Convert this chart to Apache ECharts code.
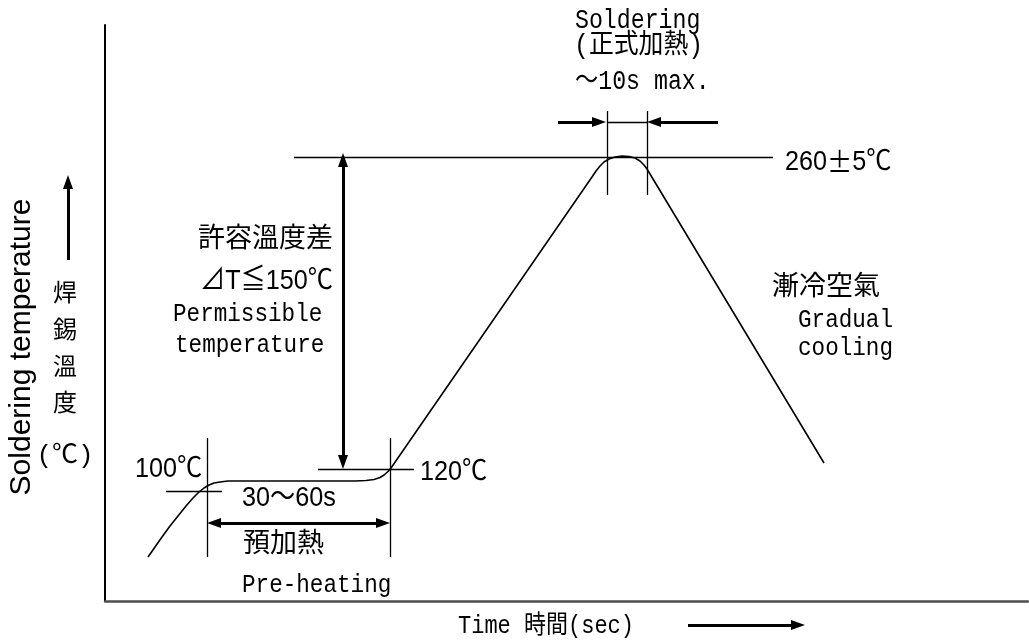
<!DOCTYPE html>
<html><head><meta charset="utf-8">
<script src="https://cdn.jsdelivr.net/npm/echarts@6/dist/echarts.min.js"></script>
<style>html,body{margin:0;padding:0;background:#fff}#c{width:1029px;height:641px}</style>
</head><body><div id="c"></div>
<script>
// Reflow soldering profile (schematic units: x = time, y = temperature)
const profilePoints = [
  [43,44],[50,54],[57,64],[65,75],[73,85],[81,95],[88,103],[94,109],[99,113],[104,116],
  [109,118],[115,119],[123,120],[250,120],[261,120.5],[269,121.5],[275,123.5],[279,126],
  [283,129.5],[286,133],[487,424],[491,430],[495,435],[499,439],[504,442],[510,444],
  [517,445],[524,444.5],[530,443],[535,440],[539,436],[542,432],[545,427],[719,138]
];
// thin reference lines
const guideLines = [
  [[61,110],[117,110]],     // 100°C level
  [[102,163],[102,44]],     // pre-heat start
  [[285,163],[285,44]],     // pre-heat end
  [[213,132],[309,132]],    // 120°C level
  [[189,444],[668,444]],    // 260°C level
  [[502,490],[502,406]],    // soldering start
  [[542,490],[542,406]],    // soldering end
  [[502,479],[542,479]]     // soldering window
];
const doubleArrows = [
  [[238,441],[238,139]],    // ΔT
  [[109,78],[278,78]]       // 30~60s
];
const singleArrows = [
  [[453,479],[494,479]],
  [[613,479],[549,479]],
  [[-37,341],[-37,419]],    // temperature axis arrow
  [[583,-24],[693,-24]]     // time axis arrow
];

const mono = '"Liberation Mono","Noto Sans CJK JP"';
const sans = '"Liberation Sans","Noto Sans CJK JP"';
const cjk = '"Noto Sans CJK JP"';
function t(text, x, y, size, fam, align, extra) {
  return Object.assign({
    type: 'text', x: x, y: y, silent: true,
    style: {text: text, font: size + 'px ' + fam, fill: '#000',
      textAlign: align, align: align, textVerticalAlign: 'middle', verticalAlign: 'middle'}
  }, extra || {});
}
const sx = {scaleX: 0.9};
const mx = {scaleX: 0.87};

const chart = echarts.init(document.getElementById('c'), null, {renderer: 'canvas'});
const tempLabel = t('{a|260}{b|±}{a|5℃}', 785, 162, 28, sans, 'left', sx);
tempLabel.style.rich = {
  a: {font: '28px ' + sans, fill: '#000'},
  b: {font: '28px ' + cjk, fill: '#000'}
};
chart.setOption({
  animation: false,
  backgroundColor: '#fff',
  grid: {left: 105, right: 1, top: 25, bottom: 40, containLabel: false, outerBoundsMode: 'none'},
  xAxis: {type: 'value', min: 0, max: 923,
    axisLine: {show: true, onZero: false, lineStyle: {color: '#4d4d4d', width: 2.5}},
    axisTick: {show: false}, axisLabel: {show: false}, splitLine: {show: false}},
  yAxis: {type: 'value', min: 0, max: 576,
    axisLine: {show: true, onZero: false, lineStyle: {color: '#000', width: 2}},
    axisTick: {show: false}, axisLabel: {show: false}, splitLine: {show: false}},
  series: [
    {type: 'line', data: profilePoints, symbol: 'none', smooth: false,
      lineStyle: {color: '#000', width: 1.6}, silent: true, clip: false},
    {type: 'lines', coordinateSystem: 'cartesian2d', clip: false, silent: true,
      data: guideLines.map(c => ({coords: c})), symbol: 'none',
      lineStyle: {color: '#000', width: 1.3, opacity: 1, curveness: 0}},
    {type: 'lines', coordinateSystem: 'cartesian2d', clip: false, silent: true,
      data: doubleArrows.map(c => ({coords: c})), symbol: ['triangle', 'triangle'],
      symbolSize: [[10, 14], [10, 14]],
      lineStyle: {color: '#000', width: 3, opacity: 1, curveness: 0}},
    {type: 'lines', coordinateSystem: 'cartesian2d', clip: false, silent: true,
      data: singleArrows.map(c => ({coords: c})), symbol: ['none', 'triangle'],
      symbolSize: [[10, 14], [10, 14]],
      lineStyle: {color: '#000', width: 3, opacity: 1, curveness: 0}}
  ],
  graphic: {elements: [
    t('Soldering', 575, 21, 27, mono, 'left', {scaleX: 0.86}),
    t('(正式加熱)', 574, 46, 27, mono, 'left', {scaleX: 0.92}),
    t('〜10s max.', 575, 82, 27, mono, 'left', {scaleX: 0.86}),
    tempLabel,
    t('許容溫度差', 333, 237, 27, cjk, 'right'),
    t('⊿T≦150℃', 333, 281, 28, sans, 'right', sx),
    t('Permissible', 173, 314, 26, mono, 'left', mx),
    t('temperature', 175, 345, 26, mono, 'left', mx),
    t('100℃', 135, 469, 28, sans, 'left', sx),
    t('120℃', 420, 472, 28, sans, 'left', sx),
    t('30〜60s', 242, 498, 28, sans, 'left', sx),
    t('預加熱', 243, 542, 27, cjk, 'left'),
    t('Pre-heating', 242, 585, 26, mono, 'left', mx),
    t('漸冷空氣', 772, 285, 27, cjk, 'left'),
    t('Gradual', 798, 320, 26, mono, 'left', mx),
    t('cooling', 798, 348, 26, mono, 'left', mx),
    t('Soldering temperature', 22, 347, 30, sans, 'center', {rotation: Math.PI / 2}),
    t('焊', 65, 292, 24, cjk, 'center'),
    t('錫', 65, 329, 24, cjk, 'center'),
    t('溫', 65, 366, 24, cjk, 'center'),
    t('度', 65, 402, 24, cjk, 'center'),
    t('(℃)', 65, 456, 26, mono, 'center'),
    t('Time 時間(sec)', 458, 626, 25, mono, 'left', {scaleX: 0.88})
  ]}
});
</script></body></html>
